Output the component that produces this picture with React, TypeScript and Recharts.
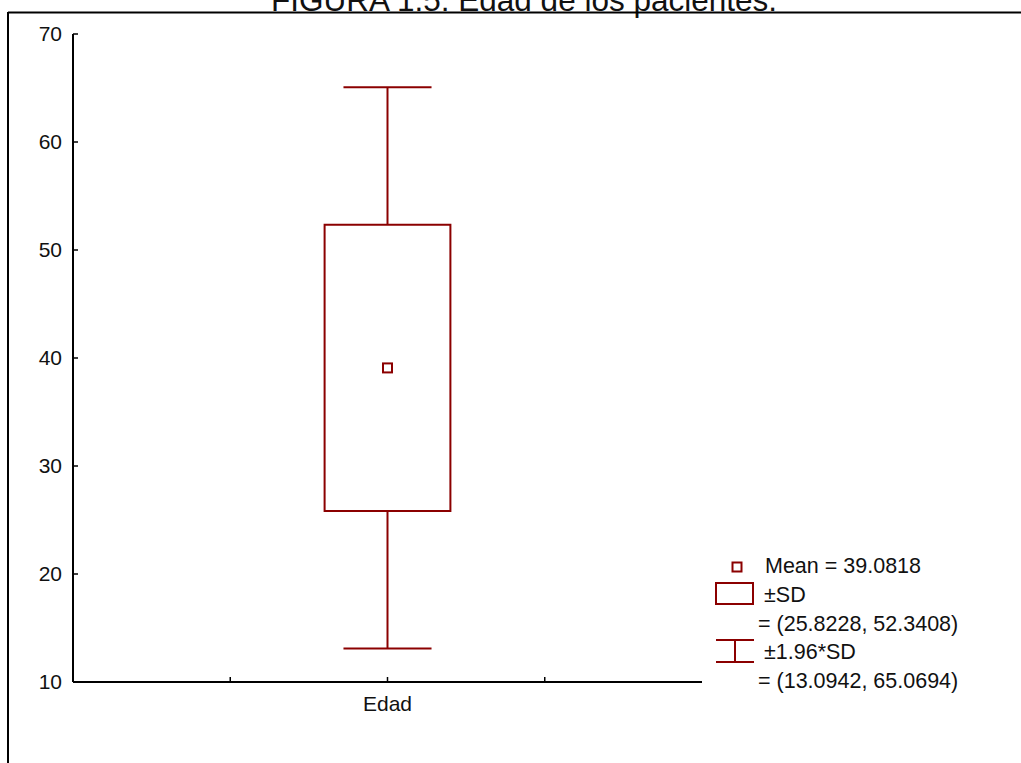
import {
  ComposedChart,
  Scatter,
  XAxis,
  YAxis,
  ReferenceArea,
  ReferenceLine,
} from "recharts";

// values
const categories = ["Edad"];
const categoryPos = [2];
const means = [39.0818];
const sdLow = [25.8228];
const sdHigh = [52.3408];
const ciLow = [13.0942];
const ciHigh = [65.0694];

const yTicks = [10, 20, 30, 40, 50, 60, 70];
const xTicks = [1, 2, 3];

const legendRows = [
  "Mean = 39.0818",
  "±SD",
  "= (25.8228, 52.3408)",
  "±1.96*SD",
  "= (13.0942, 65.0694)",
];

const title = "FIGURA 1.5: Edad de los pacientes.";

const RED = "#8b0000";
const FONT = "'Liberation Sans', Arial, sans-serif";
const BOX_HALF = 0.4;
const CAP_HALF = 0.28;

const data = categories.map((name, i) => ({
  name,
  x: categoryPos[i],
  mean: means[i],
}));

const MeanSquare = (props: any) => {
  const { cx, cy } = props;
  return (
    <rect x={cx - 4.5} y={cy - 4.5} width={9} height={9} fill="#fff" stroke={RED} strokeWidth={2} />
  );
};

const labelFor = (v: number) => {
  const i = categoryPos.indexOf(v);
  return i >= 0 ? categories[i] : "";
};

export default function App() {
  const axisLine = { stroke: "#000", strokeWidth: 2 };
  const tickLine = { stroke: "#000", strokeWidth: 1.5 };
  const tickFont = { fontSize: 21, fill: "#111", fontFamily: FONT };

  return (
    <div style={{ position: "absolute", left: 0, top: 0, width: 1021, height: 763, overflow: "hidden", background: "#fff" }}>
      <svg width={1021} height={763} style={{ position: "absolute", left: 0, top: 0 }}>
        <text x={524} y={11} textAnchor="middle" fontSize={31.5} fontFamily={FONT} fill="#111">
          {title}
        </text>
        <line x1={8} y1={12.5} x2={1030} y2={12.5} stroke="#000" strokeWidth={2} />
        <line x1={8} y1={12} x2={8} y2={780} stroke="#000" strokeWidth={2} />

        {/* legend */}
        <g fontFamily={FONT} fontSize={21.5} fill="#111">
          <rect x={732.5} y={562.5} width={9} height={9} fill="#fff" stroke={RED} strokeWidth={2} />
          <text x={765} y={566} dominantBaseline="central">{legendRows[0]}</text>
          <rect x={716} y={583} width={37} height={21} fill="none" stroke={RED} strokeWidth={2} />
          <text x={764} y={595} dominantBaseline="central">{legendRows[1]}</text>
          <text x={758} y={624} dominantBaseline="central">{legendRows[2]}</text>
          <line x1={716} y1={640} x2={754} y2={640} stroke={RED} strokeWidth={2} />
          <line x1={716} y1={662} x2={754} y2={662} stroke={RED} strokeWidth={2} />
          <line x1={735} y1={640} x2={735} y2={662} stroke={RED} strokeWidth={2} />
          <text x={764} y={652} dominantBaseline="central">{legendRows[3]}</text>
          <text x={758} y={681} dominantBaseline="central">{legendRows[4]}</text>
        </g>
      </svg>

      <div style={{ position: "absolute", left: 0, top: 0 }}>
        <ComposedChart
          width={1021}
          height={763}
          data={data}
          margin={{ top: 34, right: 319, bottom: 51, left: 13 }}
        >
          <XAxis
            dataKey="x"
            type="number"
            domain={[0, 4]}
            ticks={xTicks}
            tickFormatter={labelFor}
            axisLine={axisLine}
            tickLine={tickLine}
            tickSize={-5}
            tickMargin={19}
            height={30}
            tick={tickFont}
            interval={0}
          />
          <XAxis
            xAxisId="top"
            orientation="top"
            type="number"
            domain={[0, 4]}
            ticks={xTicks}
            tickFormatter={() => ""}
            axisLine={axisLine}
            tickLine={tickLine}
            tickSize={-5}
            height={0}
            interval={0}
          />
          <YAxis
            type="number"
            domain={[10, 70]}
            ticks={yTicks}
            axisLine={axisLine}
            tickLine={tickLine}
            tickSize={-5}
            tickMargin={16}
            width={60}
            tick={tickFont}
            interval={0}
          />
          <YAxis
            yAxisId="right"
            orientation="right"
            type="number"
            domain={[10, 70]}
            ticks={yTicks}
            tickFormatter={() => ""}
            axisLine={axisLine}
            tickLine={tickLine}
            tickSize={-5}
            width={0}
            interval={0}
          />

          {data.map((d, i) => (
            <ReferenceArea
              key={`box-${i}`}
              x1={d.x - BOX_HALF}
              x2={d.x + BOX_HALF}
              y1={sdLow[i]}
              y2={sdHigh[i]}
              fill="none"
              stroke={RED}
              strokeWidth={2}
              strokeOpacity={1}
            />
          ))}
          {data.map((d, i) => (
            <ReferenceLine
              key={`wu-${i}`}
              segment={[
                { x: d.x, y: sdHigh[i] },
                { x: d.x, y: ciHigh[i] },
              ]}
              stroke={RED}
              strokeWidth={2}
            />
          ))}
          {data.map((d, i) => (
            <ReferenceLine
              key={`wl-${i}`}
              segment={[
                { x: d.x, y: ciLow[i] },
                { x: d.x, y: sdLow[i] },
              ]}
              stroke={RED}
              strokeWidth={2}
            />
          ))}
          {data.map((d, i) => (
            <ReferenceLine
              key={`cu-${i}`}
              segment={[
                { x: d.x - CAP_HALF, y: ciHigh[i] },
                { x: d.x + CAP_HALF, y: ciHigh[i] },
              ]}
              stroke={RED}
              strokeWidth={2}
            />
          ))}
          {data.map((d, i) => (
            <ReferenceLine
              key={`cl-${i}`}
              segment={[
                { x: d.x - CAP_HALF, y: ciLow[i] },
                { x: d.x + CAP_HALF, y: ciLow[i] },
              ]}
              stroke={RED}
              strokeWidth={2}
            />
          ))}

          <Scatter dataKey="mean" shape={MeanSquare} isAnimationActive={false} />
        </ComposedChart>
      </div>
    </div>
  );
}
